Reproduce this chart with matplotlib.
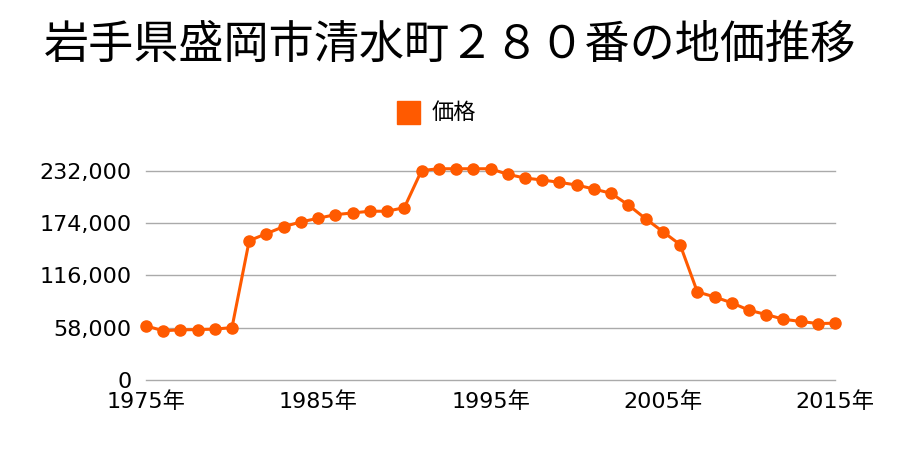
import matplotlib
matplotlib.use('Agg')
import matplotlib.pyplot as plt

plt.rcParams['font.family'] = ['Noto Sans CJK JP', 'DejaVu Sans']

title = '岩手県盛岡市清水町２８０番の地価推移'
series_name = '価格'
years = list(range(1975, 2016))
prices = [60000, 54500, 55500, 55800, 56300, 58000,
          154600, 162400, 170200, 175400, 179500, 183500, 185400, 187300, 187300, 191300,
          232500, 234500, 234500, 234500, 234500, 228300, 224200, 222000, 219400, 216400,
          212000, 207200, 194200, 179000, 164600, 150200,
          97700, 92100, 85500, 77300, 72500, 67300, 64800, 62500, 62900]
yticks = [0, 58000, 116000, 174000, 232000]
xticks = [1975, 1985, 1995, 2005, 2015]

fig = plt.figure(figsize=(9, 4.5), dpi=100)
ax = fig.add_axes([0.162, 0.156, 0.766, 0.464])

ax.plot(years, prices, color='#ff5a00', lw=2.2, marker='o', ms=8,
        clip_on=False, zorder=3)

ax.set_xlim(1975, 2015)
ax.set_ylim(0, 232000)
ax.set_yticks(yticks)
ax.set_yticklabels([f'{v:,}' for v in yticks])
ax.set_xticks(xticks)
ax.set_xticklabels([f'{y}年' for y in xticks])
tick_font = ['DejaVu Sans', 'Noto Sans CJK JP']
for lbl in ax.get_xticklabels() + ax.get_yticklabels():
    lbl.set_family(tick_font)
    lbl.set_fontsize(16)
ax.tick_params(axis='both', length=0)
ax.tick_params(axis='y', pad=10)
ax.tick_params(axis='x', pad=8)
ax.grid(axis='y', color='#aaaaaa', lw=1)
for gl in ax.get_ygridlines():
    gl.set_clip_on(False)
ax.set_axisbelow(True)
for s in ax.spines.values():
    s.set_visible(False)

fig.text(0.5, 0.9, title, ha='center', va='center', fontsize=32.5)
fig.patches.append(plt.Rectangle((397 / 900, 1 - 124 / 450), 23 / 900, 23 / 450,
                                 transform=fig.transFigure, color='#ff5a00'))
fig.text(432 / 900, 1 - 112 / 450, series_name, ha='left', va='center', fontsize=16)

fig.savefig('out.png', dpi=100)
